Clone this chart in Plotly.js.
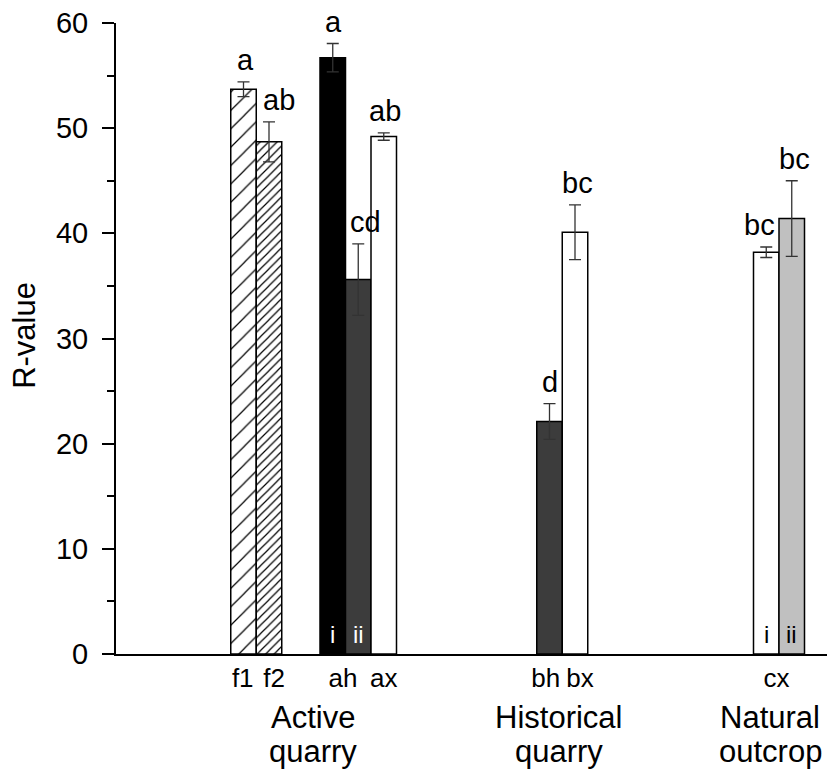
<!DOCTYPE html>
<html>
<head>
<meta charset="utf-8">
<script src="https://cdn.plot.ly/plotly-3.0.1.min.js"></script>
<style>html,body{margin:0;padding:0;background:#fff;}#chart{width:827px;height:769px;}</style>
</head>
<body>
<div id="chart"></div>
<script>
// ---- data ----
var barIds    = ['f1', 'f2', 'ah-i', 'ah-ii', 'ax', 'bh', 'bx', 'cx-i', 'cx-ii'];
var barX      = [5, 6, 8.5, 9.5, 10.5, 17, 18, 25.5, 26.5];
var rValues   = [53.7, 48.7, 56.7, 35.6, 49.2, 22.1, 40.1, 38.2, 41.4];
var rErrors   = [0.7, 1.9, 1.35, 3.4, 0.35, 1.7, 2.6, 0.5, 3.6];
var sigLetters = ['a', 'ab', 'a', 'cd', 'ab', 'd', 'bc', 'bc', 'bc'];
var tickPos   = [4.97, 6.2, 8.9, 10.5, 16.85, 18.2, 25.9];
var tickText  = ['f1', 'f2', 'ah', 'ax', 'bh', 'bx', 'cx'];
var groupX    = [7.73, 17.37, 25.65];
var groupLine1 = ['Active', 'Historical', 'Natural'];
var groupLine2 = ['quarry', 'quarry', 'outcrop'];
var innerX    = [8.5, 9.5, 25.5, 26.5];
var innerText = ['i', 'ii', 'i', 'ii'];

// ---- styles ----
var FONT = 'Liberation Sans, Arial, sans-serif';
var fillColors = ['#ffffff', '#ffffff', '#000000', '#3c3c3c', '#ffffff', '#3c3c3c', '#ffffff', '#ffffff', '#c0c0c0'];
var hatchShape = ['/', '/', '', '', '', '', '', '', ''];
var hatchSize  = [13, 6, 0, 0, 0, 0, 0, 0, 0];
var letterShift = [2, 10, 1, 7, 1, 0, 2, -7, 3];
var innerColors = ['#ffffff', '#ffffff', '#000000', '#000000'];

var traces = barIds.map(function (id, i) {
  var marker = {
    color: fillColors[i],
    line: {color: '#000000', width: 1.5}
  };
  if (hatchShape[i]) {
    marker.pattern = {shape: hatchShape[i], size: hatchSize[i], solidity: 1.2 / hatchSize[i],
                      fgcolor: '#000000', bgcolor: '#ffffff', fillmode: 'replace'};
  }
  return {
    type: 'bar',
    x: [barX[i]],
    y: [rValues[i]],
    width: 1,
    name: id,
    marker: marker,
    error_y: {type: 'data', array: [rErrors[i]], visible: true, color: '#333333', thickness: 1.3, width: 6},
    showlegend: false,
    hoverinfo: 'skip'
  };
});

var annotations = [];
sigLetters.forEach(function (t, i) {
  annotations.push({
    x: barX[i], y: rValues[i] + rErrors[i], xref: 'x', yref: 'y',
    text: t, showarrow: false, xanchor: 'center', yanchor: 'bottom',
    xshift: letterShift[i], yshift: 4,
    font: {family: FONT, size: 29, color: '#000'}
  });
});
innerText.forEach(function (t, i) {
  annotations.push({
    x: innerX[i], y: 0, xref: 'x', yref: 'y',
    text: t, showarrow: false, xanchor: 'center', yanchor: 'bottom', yshift: 4,
    font: {family: FONT, size: 24, color: innerColors[i]}
  });
});
groupX.forEach(function (gx, i) {
  annotations.push({
    x: gx, y: 0, xref: 'x', yref: 'paper', text: groupLine1[i], showarrow: false,
    xanchor: 'center', yanchor: 'top', yshift: -44,
    font: {family: FONT, size: 31, color: '#000'}
  });
  annotations.push({
    x: gx, y: 0, xref: 'x', yref: 'paper', text: groupLine2[i], showarrow: false,
    xanchor: 'center', yanchor: 'top', yshift: -78,
    font: {family: FONT, size: 31, color: '#000'}
  });
});
annotations.push({
  x: -(116 - 24.5) / 711, y: 0.505, xref: 'paper', yref: 'paper', text: 'R-value',
  textangle: -90, showarrow: false, xanchor: 'center', yanchor: 'middle',
  font: {family: FONT, size: 31, color: '#000'}
});

var layout = {
  width: 827, height: 769,
  margin: {l: 116, r: 0, t: 23, b: 115, pad: 0},
  paper_bgcolor: '#ffffff', plot_bgcolor: '#ffffff',
  barmode: 'overlay',
  font: {family: FONT, color: '#000'},
  xaxis: {
    range: [0, 711 / 25.5], showline: true, linecolor: '#000', linewidth: 2,
    ticks: '', tickmode: 'array', tickvals: tickPos, ticktext: tickText,
    tickfont: {family: FONT, size: 26, color: '#000'},
    showgrid: false, zeroline: false, fixedrange: true
  },
  yaxis: {
    range: [0, 60], showline: true, linecolor: '#000', linewidth: 2,
    ticks: 'outside', ticklen: 12, tickwidth: 2, tickcolor: '#000',
    ticklabelstandoff: 8,
    tickmode: 'array', tickvals: [0, 10, 20, 30, 40, 50, 60],
    minor: {tickvals: [5, 15, 25, 35, 45, 55], ticks: 'outside', ticklen: 7, tickwidth: 2, tickcolor: '#000', showgrid: false},
    tickfont: {family: FONT, size: 29, color: '#000'},
    showgrid: false, zeroline: false, fixedrange: true
  },
  annotations: annotations
};

Plotly.newPlot('chart', traces, layout, {displayModeBar: false, staticPlot: true});
</script>
</body>
</html>
